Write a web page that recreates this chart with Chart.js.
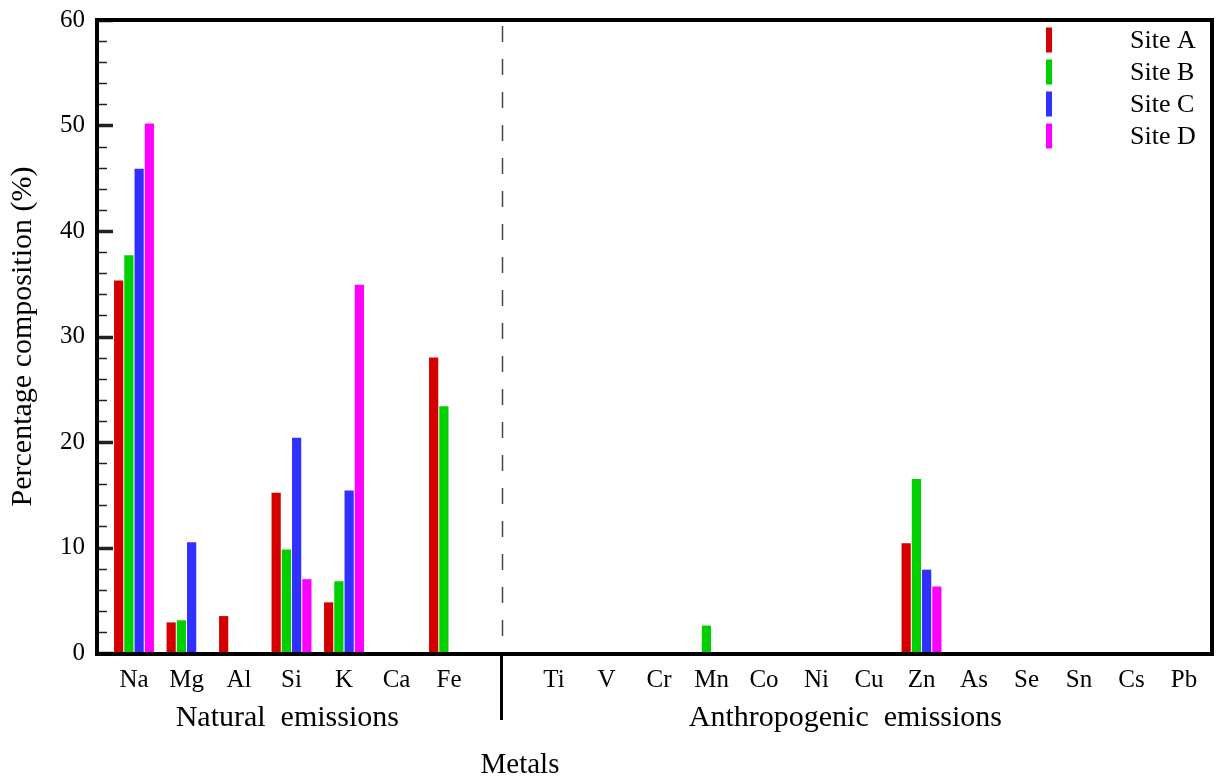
<!DOCTYPE html>
<html>
<head>
<meta charset="utf-8">
<title>Percentage composition of metals</title>
<script src="https://cdn.jsdelivr.net/npm/chart.js@4/dist/chart.umd.min.js"></script>
<style>
  html, body { margin: 0; padding: 0; background: #fff; }
  #wrap { width: 1218px; height: 782px; position: relative; }
</style>
</head>
<body>
<div id="wrap"><canvas id="chart"></canvas></div>
<script>
// metals along the x axis, '' marks the empty slot between the two groups
const metals = ['Na','Mg','Al','Si','K','Ca','Fe','','Ti','V','Cr','Mn','Co','Ni','Cu','Zn','As','Se','Sn','Cs','Pb'];
const siteA = [35.3, 2.9, 3.5, 15.2, 4.8, 0, 28.0, null, 0, 0, 0, 0,   0, 0, 0, 10.4, 0, 0, 0, 0, 0];
const siteB = [37.7, 3.1, 0,   9.8,  6.8, 0, 23.4, null, 0, 0, 0, 2.6, 0, 0, 0, 16.5, 0, 0, 0, 0, 0];
const siteC = [45.9, 10.5, 0,  20.4, 15.4, 0, 0,   null, 0, 0, 0, 0,   0, 0, 0, 7.9,  0, 0, 0, 0, 0];
const siteD = [50.2, 0,   0,   7.0,  34.9, 0, 0,   null, 0, 0, 0, 0,   0, 0, 0, 6.3,  0, 0, 0, 0, 0];
const siteNames = ['Site A', 'Site B', 'Site C', 'Site D'];
const siteColors = ['#d40000', '#00d000', '#3030ff', '#ff00ff'];
const yMajor = [0, 10, 20, 30, 40, 50, 60];

const serif = "'Liberation Serif', 'Times New Roman', serif";
const gapIdx = metals.indexOf('');

const toPts = arr => arr.map((v, i) => ({ x: i, y: v })).filter(p => p.y !== null);

const decor = {
  id: 'decor',
  beforeDatasetsDraw(chart) {
    const { ctx, chartArea: a, scales: { x } } = chart;
    const gx = Math.round(x.getPixelForValue(gapIdx)) + 0.5;
    ctx.save();
    ctx.strokeStyle = '#444';
    ctx.lineWidth = 1.5;
    ctx.setLineDash([16, 17]);
    ctx.beginPath(); ctx.moveTo(gx, a.top + 6); ctx.lineTo(gx, a.bottom - 14); ctx.stroke();
    ctx.restore();
  },
  afterDraw(chart) {
    const { ctx, chartArea: a, scales: { x, y } } = chart;
    ctx.save();
    // y ticks pointing inward
    ctx.strokeStyle = '#222';
    for (let v = 0; v <= 60; v += 2) {
      const py = Math.round(y.getPixelForValue(v)) + 0.5;
      const major = v % 10 === 0;
      ctx.lineWidth = major ? 3.5 : 1.5;
      ctx.beginPath(); ctx.moveTo(a.left, py); ctx.lineTo(a.left + (major ? 16 : 10), py); ctx.stroke();
    }
    // frame
    ctx.strokeStyle = '#000';
    ctx.lineWidth = 4;
    ctx.strokeRect(a.left, a.top, a.right - a.left, a.bottom - a.top + 1);
    // separator below the axis
    const gx = x.getPixelForValue(gapIdx);
    ctx.lineWidth = 3;
    ctx.beginPath(); ctx.moveTo(gx, a.bottom); ctx.lineTo(gx, a.bottom + 67); ctx.stroke();

    // texts
    ctx.fillStyle = '#000';
    ctx.textAlign = 'center';
    ctx.textBaseline = 'alphabetic';
    ctx.font = '30px ' + serif;
    ctx.fillText('Natural  emissions', x.getPixelForValue(2.92), a.bottom + 73);
    ctx.fillText('Anthropogenic  emissions', x.getPixelForValue(13.55), a.bottom + 73);
    ctx.font = '29px ' + serif;
    ctx.fillText('Metals', 520, a.bottom + 120);

    ctx.save();
    ctx.translate(31, (a.top + a.bottom) / 2);
    ctx.rotate(-Math.PI / 2);
    ctx.font = '30px ' + serif;
    ctx.fillText('Percentage composition (%)', 0, 0);
    ctx.restore();

    // legend
    ctx.textAlign = 'left';
    ctx.textBaseline = 'middle';
    ctx.font = '26px ' + serif;
    chart.data.datasets.forEach((ds, i) => {
      const cy = a.top + 20 + i * 32;
      ctx.fillStyle = ds.backgroundColor;
      ctx.fillRect(a.right - 166, cy - 12.5, 6, 25);
      ctx.fillStyle = '#000';
      ctx.fillText(ds.label, a.right - 82, cy + 1);
    });
    ctx.restore();
  }
};

new Chart(document.getElementById('chart'), {
  type: 'bar',
  data: {
    datasets: [siteA, siteB, siteC, siteD].map((arr, i) => ({
      label: siteNames[i],
      data: toPts(arr),
      backgroundColor: siteColors[i],
      borderWidth: 0,
      categoryPercentage: 0.78,
      barPercentage: 0.9
    }))
  },
  options: {
    responsive: true,
    maintainAspectRatio: false,
    animation: false,
    layout: { padding: { top: 20, right: 6, left: 0, bottom: 0 } },
    plugins: { legend: { display: false }, tooltip: { enabled: false } },
    scales: {
      x: {
        type: 'linear',
        min: -0.705,
        max: 20.533,
        offset: false,
        grid: { display: false, drawTicks: false },
        border: { display: false },
        afterBuildTicks: s => { s.ticks = metals.map((m, i) => ({ value: i })).filter(t => metals[t.value] !== ''); },
        afterFit: s => { s.height = 129; },
        ticks: {
          autoSkip: false, maxRotation: 0, padding: 12,
          color: '#000', font: { family: serif, size: 25 },
          callback: v => metals[v]
        }
      },
      y: {
        min: 0, max: 60,
        grid: { display: false, drawTicks: false },
        border: { display: false },
        afterBuildTicks: s => { s.ticks = yMajor.map(v => ({ value: v })); },
        afterFit: s => { s.width = 97; s.paddingTop = 0; s.paddingBottom = 0; },
        ticks: { padding: 12, color: '#000', font: { family: serif, size: 25, lineHeight: 0.4 } }
      }
    }
  },
  plugins: [decor]
});
</script>
</body>
</html>
